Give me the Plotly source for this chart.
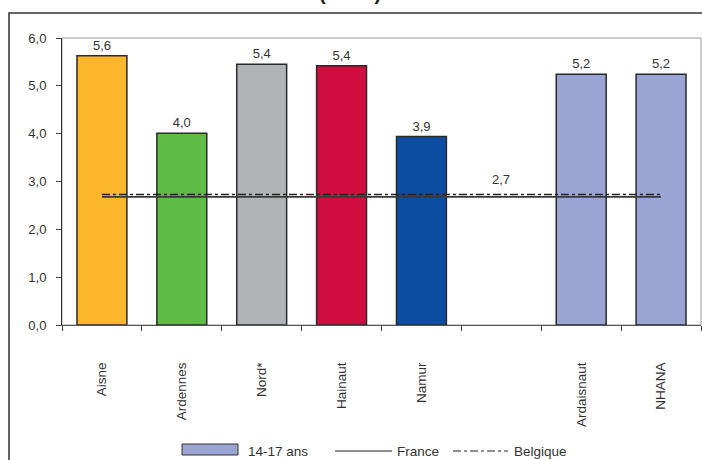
import plotly.graph_objects as go

categories = ["Aisne", "Ardennes", "Nord*", "Hainaut", "Namur", " ", "Ardaisnaut", "NHANA"]
values = [5.63, 4.01, 5.45, 5.42, 3.94, None, 5.24, 5.24]
value_labels = ["5,6", "4,0", "5,4", "5,4", "3,9", "", "5,2", "5,2"]
bar_colors = ["#FBB62B", "#5DBB46", "#B2B3B6", "#CF0D3F", "#0C4DA2", "#9BA5D3", "#9BA5D3", "#9BA5D3"]
france_value = 2.68
belgique_value = 2.73
reference_label = "2,7"
y_ticks = [0, 1, 2, 3, 4, 5, 6]
legend_names = ["14-17 ans", "France", "Belgique"]
title_text = "(en ‰)"

W, H = 702, 460
ML, MR, MT, MB = 62, 1, 38, 135
PW = W - ML - MR
PH = H - MT - MB


def px2x(px):
    return (px - ML) / PW


def px2y(py):
    return (H - MB - py) / PH


FONT = "Liberation Sans, Arial, sans-serif"
TXT = "#333333"

fig = go.Figure()

fig.add_trace(go.Bar(
    x=categories, y=values, width=0.625,
    marker=dict(color=bar_colors, line=dict(color="#2a2a2a", width=1.5)),
    text=value_labels, textposition="outside", cliponaxis=False,
    textfont=dict(family=FONT, size=13, color=TXT),
    showlegend=False, hoverinfo="skip",
))

fig.add_trace(go.Scatter(
    x=[categories[0], categories[-1]], y=[france_value, france_value],
    mode="lines", line=dict(color="#3a3a3a", width=1.8), showlegend=False,
    hoverinfo="skip",
))
fig.add_trace(go.Scatter(
    x=[categories[0], categories[-1]], y=[belgique_value, belgique_value],
    mode="lines", line=dict(color="#222222", width=1.5, dash="8px,3px,3px,3px"),
    showlegend=False, hoverinfo="skip",
))

fig.add_annotation(x=categories[5], y=belgique_value, text=reference_label,
                   showarrow=False, yanchor="bottom", yshift=5,
                   font=dict(family=FONT, size=13, color=TXT))

shapes = []
shapes.append(dict(type="rect", xref="paper", yref="paper", x0=0, x1=1, y0=0, y1=1,
                   line=dict(color="#9a9a9a", width=1), layer="below"))
shapes.append(dict(type="rect", xref="paper", yref="paper",
                   x0=px2x(9), x1=px2x(760), y0=px2y(520), y1=px2y(13),
                   line=dict(color="#333333", width=1.5)))

shapes.append(dict(type="rect", xref="paper", yref="paper",
                   x0=px2x(182), x1=px2x(238), y0=px2y(455), y1=px2y(444),
                   fillcolor="#9BA5D3", line=dict(color="#333333", width=1)))
shapes.append(dict(type="line", xref="paper", yref="paper",
                   x0=px2x(335), x1=px2x(392), y0=px2y(451), y1=px2y(451),
                   line=dict(color="#222222", width=1.2)))
shapes.append(dict(type="line", xref="paper", yref="paper",
                   x0=px2x(453), x1=px2x(508), y0=px2y(451), y1=px2y(451),
                   line=dict(color="#222222", width=1.2, dash="8px,3px,3px,3px")))
for name, px in zip(legend_names, [246, 395, 512]):
    fig.add_annotation(xref="paper", yref="paper", x=px2x(px), y=px2y(451),
                       text=name, showarrow=False, xanchor="left", yanchor="middle",
                       font=dict(family=FONT, size=13.5, color=TXT))

fig.add_annotation(xref="paper", yref="paper", x=px2x(350), y=px2y(6),
                   text="<b>" + title_text + "</b>", showarrow=False,
                   xanchor="center", yanchor="bottom",
                   font=dict(family=FONT, size=20, color="#222222"))

fig.update_layout(
    width=W, height=H,
    margin=dict(l=ML, r=MR, t=MT, b=MB, pad=0),
    paper_bgcolor="white", plot_bgcolor="white",
    separators=", ",
    shapes=shapes,
    bargap=0.375,
    font=dict(family=FONT, size=12, color=TXT),
    xaxis=dict(
        type="category", categoryorder="array", categoryarray=categories,
        range=[-0.5, 7.5], tickson="boundaries", ticks="outside", ticklen=5,
        tickcolor="#444444", tickangle=-90, showline=True, linecolor="#555555",
        linewidth=1, showgrid=False, ticklabelstandoff=31,
        tickfont=dict(family=FONT, size=13.5, color=TXT),
    ),
    yaxis=dict(
        range=[0, 6], tickvals=y_ticks, tickformat=".1f", ticks="outside",
        ticklen=5, tickcolor="#444444", showline=True, linecolor="#333333",
        linewidth=1, showgrid=False, zeroline=False, ticklabelstandoff=7,
        tickfont=dict(family=FONT, size=13, color=TXT),
    ),
)

fig.write_html("out.html", config={"displayModeBar": False},
               post_script="document.body.style.margin='0';document.body.style.overflow='hidden';")
